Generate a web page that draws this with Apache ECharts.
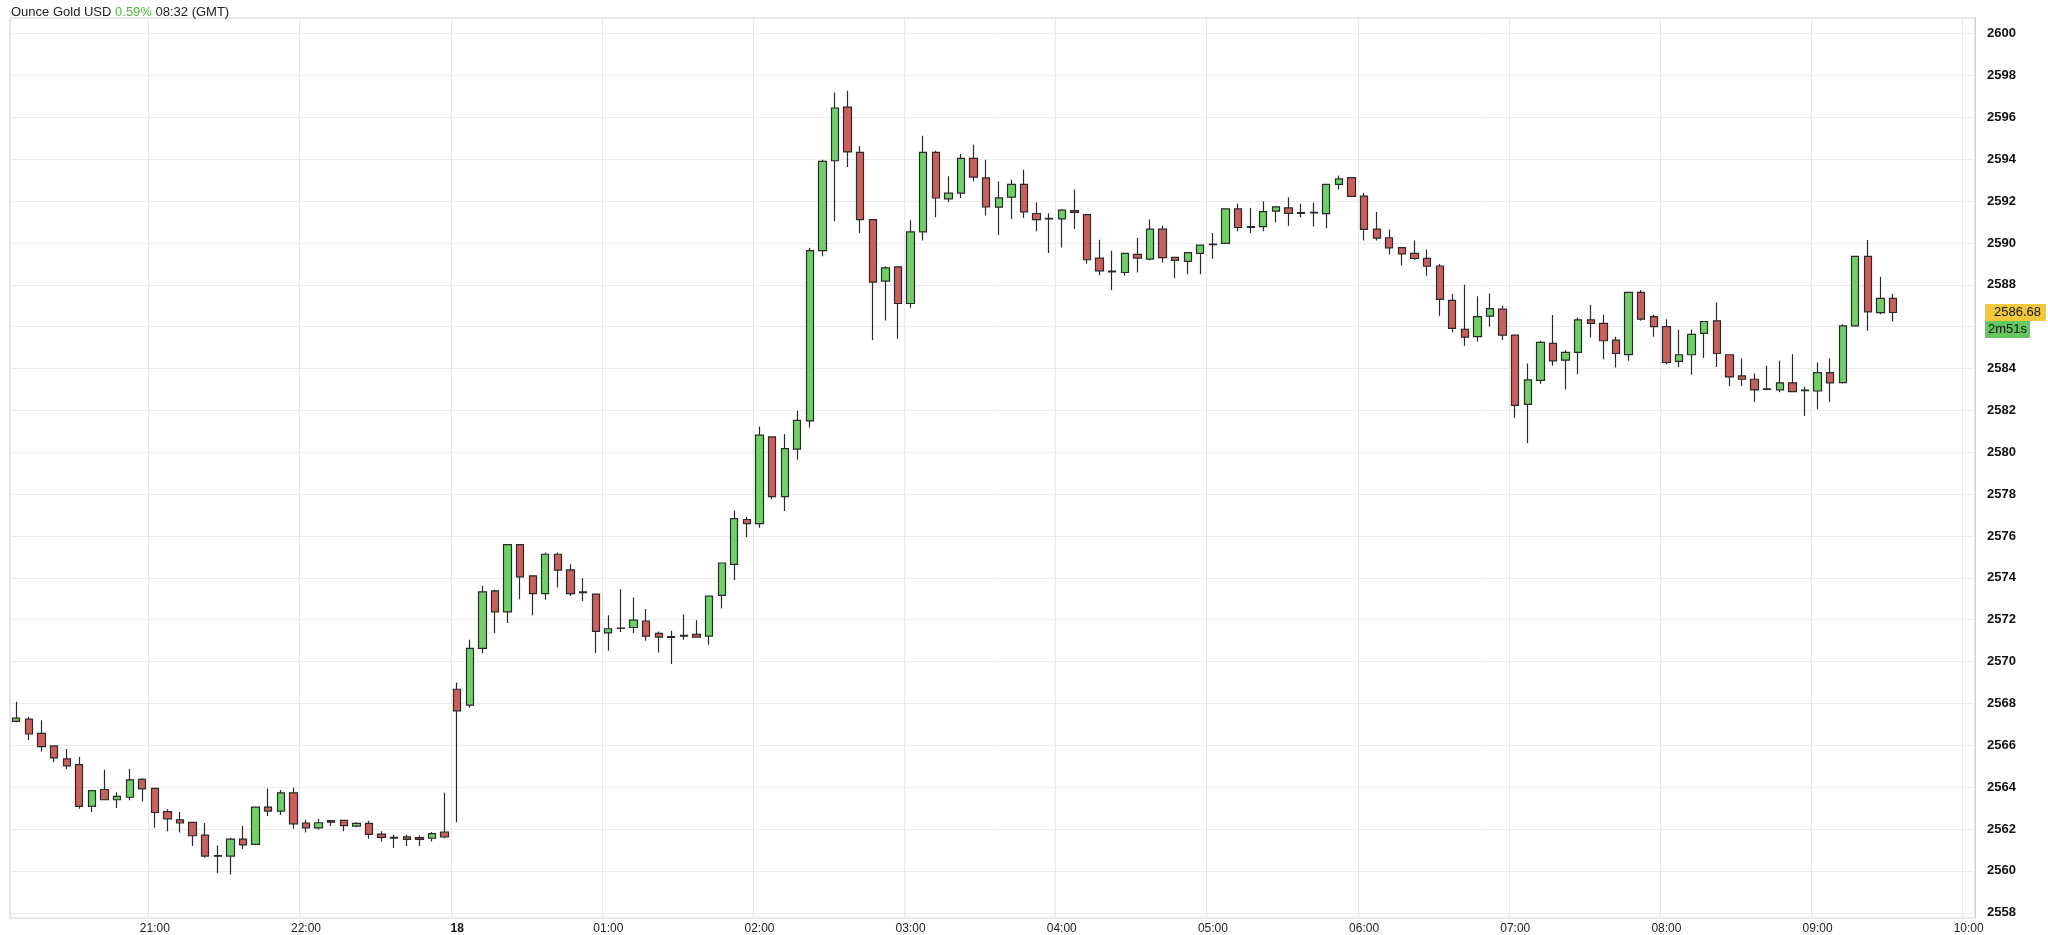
<!DOCTYPE html>
<html><head><meta charset="utf-8">
<script src="https://cdn.jsdelivr.net/npm/echarts@6/dist/echarts.min.js"></script>
<style>html,body{margin:0;padding:0;background:#fff}#c{width:2048px;height:935px}</style>
</head><body><div id="c"></div>
<script>
const opens = [2567.14,2567.25,2566.57,2565.97,2565.35,2565.08,2563.08,2563.89,2563.40,2563.52,2564.37,2563.94,2562.83,2562.44,2562.32,2561.71,2560.73,2560.71,2561.52,2561.27,2563.05,2562.86,2563.73,2562.29,2562.06,2562.40,2562.41,2562.14,2562.27,2561.76,2561.60,2561.63,2561.59,2561.56,2561.86,2568.68,2567.92,2570.63,2573.38,2572.38,2575.59,2574.10,2573.25,2575.13,2574.38,2573.33,2573.22,2571.37,2571.59,2571.63,2571.94,2571.35,2571.19,2571.25,2571.30,2571.22,2573.16,2574.65,2576.79,2576.59,2580.74,2577.88,2580.15,2581.50,2589.64,2593.93,2596.49,2594.33,2591.12,2588.18,2588.86,2587.11,2590.53,2594.33,2592.11,2592.38,2594.04,2593.11,2591.71,2592.19,2592.80,2591.41,2591.18,2591.15,2591.55,2591.36,2589.28,2588.66,2588.59,2589.46,2589.23,2590.66,2589.31,2589.12,2589.50,2589.95,2589.98,2591.63,2590.78,2590.78,2591.52,2591.68,2591.45,2591.47,2591.40,2592.80,2593.12,2592.24,2590.66,2590.25,2589.78,2589.50,2589.27,2588.90,2587.26,2585.87,2585.53,2586.51,2586.84,2585.60,2582.29,2583.44,2585.20,2584.40,2584.77,2586.33,2586.16,2585.36,2584.67,2587.64,2586.48,2586.00,2584.34,2584.66,2585.68,2586.28,2584.66,2583.65,2583.49,2583.03,2582.98,2583.32,2582.97,2582.93,2583.81,2583.33,2586.04,2589.36,2586.67,2587.35];
const closes = [2567.30,2566.54,2565.94,2565.40,2565.02,2563.08,2563.84,2563.40,2563.56,2564.35,2563.92,2562.79,2562.49,2562.29,2561.68,2560.71,2560.70,2561.52,2561.24,2563.05,2562.86,2563.73,2562.25,2562.06,2562.30,2562.33,2562.16,2562.27,2561.75,2561.60,2561.57,2561.51,2561.51,2561.78,2561.62,2567.65,2570.63,2573.33,2572.38,2575.59,2574.05,2573.25,2575.13,2574.37,2573.25,2573.30,2571.44,2571.57,2571.60,2571.98,2571.22,2571.17,2571.16,2571.22,2571.17,2573.13,2574.71,2576.83,2576.59,2580.82,2577.88,2580.18,2581.53,2589.64,2593.90,2596.45,2594.35,2591.12,2588.13,2588.81,2587.11,2590.53,2594.33,2592.15,2592.38,2594.04,2593.15,2591.72,2592.16,2592.80,2591.49,2591.12,2591.15,2591.57,2591.46,2589.20,2588.67,2588.62,2589.50,2589.28,2590.66,2589.30,2589.17,2589.54,2589.90,2589.92,2591.63,2590.74,2590.74,2591.50,2591.73,2591.42,2591.42,2591.44,2592.80,2593.06,2592.23,2590.65,2590.23,2589.77,2589.48,2589.26,2588.89,2587.31,2585.92,2585.50,2586.48,2586.86,2585.60,2582.24,2583.46,2585.25,2584.37,2584.77,2586.33,2586.16,2585.33,2584.72,2587.64,2586.36,2586.00,2584.29,2584.66,2585.63,2586.25,2584.72,2583.60,2583.49,2582.98,2583.00,2583.32,2582.90,2582.94,2583.81,2583.32,2586.04,2589.36,2586.71,2587.35,2586.68];
const lows = [2567.10,2566.25,2565.71,2565.19,2564.87,2562.97,2562.81,2563.37,2563.00,2563.37,2563.32,2562.06,2561.89,2561.83,2561.19,2560.63,2559.90,2559.83,2561.05,2561.22,2562.62,2562.67,2562.02,2561.83,2561.98,2562.14,2561.89,2562.08,2561.54,2561.41,2561.10,2561.19,2561.19,2561.40,2561.56,2562.33,2567.80,2570.40,2571.37,2571.84,2572.98,2572.22,2572.95,2573.54,2573.13,2572.90,2570.41,2570.52,2571.41,2571.37,2571.00,2570.44,2569.89,2571.05,2571.17,2570.81,2572.54,2573.90,2575.95,2576.40,2577.76,2577.20,2579.64,2581.18,2589.37,2591.04,2593.63,2590.48,2585.35,2586.30,2585.43,2586.91,2590.12,2591.23,2591.96,2592.15,2592.95,2591.31,2590.38,2591.15,2591.20,2590.56,2589.52,2589.79,2590.67,2589.02,2588.46,2587.74,2588.43,2588.59,2589.18,2589.07,2588.32,2588.51,2588.51,2589.25,2589.98,2590.56,2590.48,2590.56,2590.99,2590.83,2591.23,2590.79,2590.71,2592.56,2592.23,2590.12,2590.12,2589.45,2588.92,2589.19,2588.44,2586.52,2585.73,2585.09,2585.29,2586.01,2585.36,2581.65,2580.45,2583.28,2584.13,2583.00,2583.73,2585.49,2584.45,2584.05,2584.37,2586.28,2585.52,2584.21,2584.08,2583.70,2584.50,2584.08,2583.17,2583.17,2582.41,2582.97,2582.87,2582.90,2581.74,2582.06,2582.41,2583.29,2586.00,2585.81,2586.60,2586.25];
const highs = [2568.08,2567.37,2567.20,2566.00,2565.83,2565.44,2563.84,2564.83,2563.76,2564.87,2564.43,2563.94,2562.95,2562.81,2562.32,2562.29,2561.21,2561.59,2562.14,2563.08,2563.94,2563.87,2563.97,2562.44,2562.49,2562.43,2562.41,2562.33,2562.40,2561.90,2561.73,2561.73,2561.70,2561.86,2563.73,2569.00,2571.04,2573.62,2573.43,2575.59,2575.59,2574.10,2575.21,2575.21,2574.65,2573.98,2573.22,2572.22,2573.46,2573.06,2572.51,2571.44,2571.48,2572.25,2571.98,2573.13,2574.71,2577.22,2576.92,2581.23,2580.74,2580.87,2581.98,2589.77,2593.98,2597.19,2597.27,2594.62,2591.12,2588.89,2588.86,2591.09,2595.13,2594.41,2593.19,2594.25,2594.70,2593.98,2592.94,2593.02,2593.50,2591.94,2591.42,2591.63,2592.56,2591.36,2590.16,2589.63,2589.50,2590.24,2591.12,2590.83,2589.31,2589.54,2589.90,2590.48,2591.63,2591.87,2591.68,2592.00,2591.73,2592.19,2591.87,2591.92,2592.80,2593.23,2593.12,2592.40,2591.48,2590.65,2589.78,2590.12,2589.69,2589.00,2587.56,2588.01,2587.45,2587.59,2587.00,2585.60,2584.24,2585.33,2586.56,2584.88,2586.44,2587.04,2586.57,2585.52,2587.64,2587.75,2586.57,2586.36,2585.85,2585.85,2586.25,2587.16,2584.66,2584.48,2583.76,2584.13,2584.37,2584.69,2583.13,2584.29,2584.48,2586.12,2589.36,2590.14,2588.39,2587.56];
const hourLabels = ['21:00','22:00','18','01:00','02:00','03:00','04:00','05:00','06:00','07:00','08:00','09:00','10:00'];
const hourLabelSlots = [11,23,35,47,59,71,83,95,107,119,131,143,155];
const yTicks = [2558,2560,2562,2564,2566,2568,2570,2572,2574,2576,2578,2580,2582,2584,2586,2588,2590,2592,2594,2596,2598,2600];
const lastPrice = 2586.68, countdown = '2m51s';
const totalSlots = 156;

const cats = [];
for (let i = 0; i < totalSlots; i++) { const k = hourLabelSlots.indexOf(i); cats.push(k >= 0 ? hourLabels[k] : ''); }
const data = opens.map((o, i) => [o, closes[i], lows[i], highs[i]]);
const isLab = (i) => hourLabelSlots.indexOf(i) >= 0;
const F = 'Liberation Sans, Arial';
const clear = { color: 'rgba(0,0,0,0)', width: 0.01, type: 'solid' };

const chart = echarts.init(document.getElementById('c'));
chart.setOption({
  animation: false,
  title: {
    left: 6, top: 1,
    text: '{a|Ounce Gold USD }{g|0.59%}{a| 08:32 (GMT)}',
    textStyle: { fontWeight: 'normal', rich: { a: { fontFamily: F, fontSize: 13, fontWeight: 'normal', color: '#222' }, g: { fontFamily: F, fontSize: 13, fontWeight: 'normal', color: '#56b348' } } }
  },
  grid: { left: 10, right: 73, top: 18, bottom: 17, show: true, borderColor: '#d0d0d0', borderWidth: 1 },
  xAxis: {
    type: 'category', data: cats, boundaryGap: true,
    axisLine: { show: false }, axisTick: { show: false },
    axisLabel: { interval: (i) => isLab(i), fontFamily: F, fontSize: 12, color: '#222', margin: 5,
      formatter: (v) => v === '18' ? '{b|18}' : v, rich: { b: { fontWeight: 'bold', fontSize: 12, color: '#111' } } },
    splitLine: { show: true, interval: (i) => isLab(i), lineStyle: { color: '#e8e6ee', width: 1 } }
  },
  yAxis: {
    type: 'value', position: 'right', scale: true, min: 2557.75, max: 2600.75,
    axisLine: { show: true, lineStyle: { color: '#d0d0d0' } },
    axisTick: { show: false, customValues: yTicks },
    axisLabel: { customValues: yTicks, formatter: (v) => String(v), fontFamily: F, fontSize: 13, fontWeight: 'bold', color: '#111', margin: 12 },
    splitLine: { show: true, lineStyle: { color: '#ececf0' } }
  },
  series: [{
    type: 'candlestick', data: data, barWidth: '62%', clip: false,
    itemStyle: { color: '#6fd068', color0: '#c9605c', borderColor: '#2a2a2a', borderColor0: '#2a2a2a', borderWidth: 1.2 },
    markLine: {
      symbol: ['none', 'none'], silent: true, animation: false, precision: 2,
      lineStyle: clear,
      data: [
        { yAxis: lastPrice, lineStyle: clear, label: { show: true, position: 'end', distance: 10, formatter: lastPrice.toFixed(2), backgroundColor: '#f0c93a', color: '#111', fontSize: 13, fontFamily: F, padding: [2, 5, 2, 9] } },
        { yAxis: lastPrice, lineStyle: clear, label: { show: true, position: 'end', distance: 10, offset: [0, 17], formatter: countdown, backgroundColor: '#64c760', color: '#111', fontSize: 13, fontFamily: F, padding: [2, 3, 2, 3] } }
      ]
    }
  }]
});
</script></body></html>
